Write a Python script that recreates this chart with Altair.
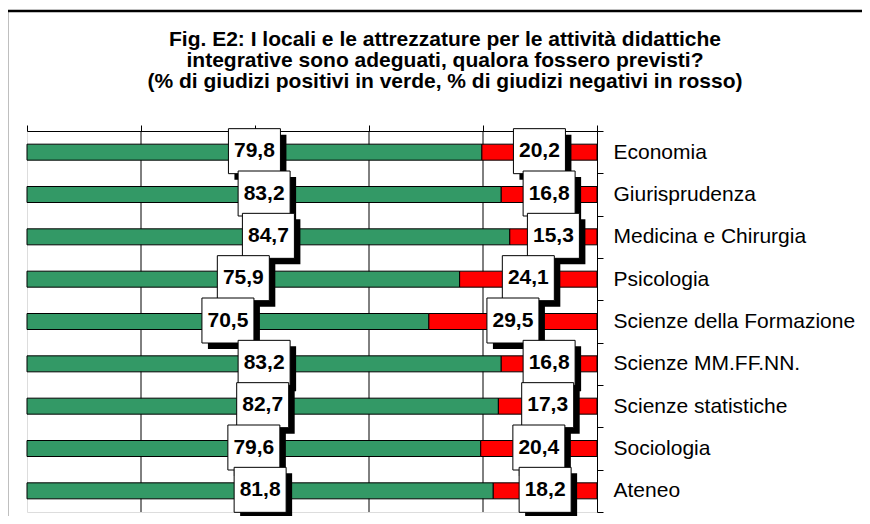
import altair as alt
import pandas as pd

categories = [
    "Economia",
    "Giurisprudenza",
    "Medicina e Chirurgia",
    "Psicologia",
    "Scienze della Formazione",
    "Scienze MM.FF.NN.",
    "Scienze statistiche",
    "Sociologia",
    "Ateneo",
]
positive = [79.8, 83.2, 84.7, 75.9, 70.5, 83.2, 82.7, 79.6, 81.8]
negative = [20.2, 16.8, 15.3, 24.1, 29.5, 16.8, 17.3, 20.4, 18.2]
title_lines = [
    "Fig. E2: I locali e le attrezzature per le attività didattiche",
    "integrative sono adeguati, qualora fossero previsti?",
    "(% di giudizi positivi in verde, % di giudizi negativi in rosso)",
]
x_ticks = [0, 20, 40, 60, 80, 100]
grid_values = [20, 40, 60, 80]

rows = []
for c, p, n in zip(categories, positive, negative):
    rows.append({"cat": c, "kind": "positivi", "ord": 0, "value": p})
    rows.append({"cat": c, "kind": "negativi", "ord": 1, "value": n})
df = pd.DataFrame(rows)

FONT = "Liberation Sans"

xscale = alt.Scale(domain=[0, 100], nice=False)
yscale = alt.Scale(domain=categories, paddingInner=0, paddingOuter=0)

xaxis = alt.Axis(
    orient="top", values=x_ticks, labels=False, title=None, grid=False,
    domainColor="black", tickColor="black", tickSize=6,
)
yaxis = alt.Axis(
    orient="right", title=None, domainColor="black", tickColor="black",
    tickSize=6, tickBand="extent", labelFontSize=21, labelFont=FONT,
    labelColor="black", labelPadding=10, labelLimit=400, grid=False,
)


def X(field):
    return alt.X(field, scale=xscale, axis=xaxis, title=None)


def Y():
    return alt.Y("cat:N", sort=categories, scale=yscale, axis=yaxis, title=None)


base = alt.Chart(df).transform_stack(
    stack="value", groupby=["cat"], as_=["v0", "v1"],
    sort=[alt.SortField("ord", order="ascending")],
).transform_calculate(
    mid="(datum.v0 + datum.v1) / 2",
    lab="replace(format(datum.value, '.1f'), '.', ',')",
)

grid = alt.Chart(pd.DataFrame({"g": grid_values})).mark_rule(
    color="black", strokeWidth=1
).encode(x=X("g:Q"))

bars = base.mark_bar(size=16, stroke="black", strokeWidth=1).encode(
    x=X("v0:Q"),
    x2="v1:Q",
    y=Y(),
    color=alt.Color(
        "kind:N",
        scale=alt.Scale(domain=["positivi", "negativi"], range=["#339966", "#FF0000"]),
        legend=None,
    ),
)

shadow = base.mark_rect(width=52, height=45, fill="black", xOffset=6, yOffset=5).encode(
    x=X("mid:Q"), y=Y()
)
box = base.mark_rect(
    width=52, height=45, fill="white", stroke="black", strokeWidth=1, yOffset=-1
).encode(x=X("mid:Q"), y=Y())
labels = base.mark_text(
    fontSize=21, fontWeight="bold", font=FONT, color="black",
    baseline="middle", align="center", yOffset=-1,
).encode(x=X("mid:Q"), y=Y(), text="lab:N")

dummy = pd.DataFrame({"d": [0]})
border = alt.Chart(dummy).mark_rect(
    filled=False, stroke="black", strokeWidth=2.5
).encode(
    x=alt.value(-20), x2=alt.value(900), y=alt.value(-120), y2=alt.value(520)
)
title = alt.Chart(dummy).mark_text(
    text=title_lines, font=FONT, fontSize=21, fontWeight="bold", color="black",
    align="center", baseline="alphabetic", lineHeight=21.3,
).encode(x=alt.value(418), y=alt.value(-85.3))

chart = alt.layer(grid, bars, shadow, box, labels, border, title).properties(
    width=570,
    height=381,
    autosize=alt.AutoSizeParams(type="none"),
    padding={"left": 19, "top": 123, "right": 265, "bottom": 4},
).configure_view(stroke="#999999", strokeWidth=1).configure(background="white")

chart.save("out.html", embed_options={"renderer": "svg", "actions": False})
